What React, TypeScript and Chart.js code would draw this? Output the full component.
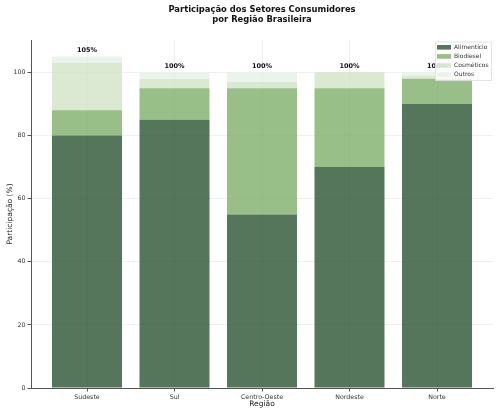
import React, { useEffect, useRef } from "react";
import { Chart, registerables } from "chart.js";

Chart.register(...registerables);

const regions = ["Sudeste", "Sul", "Centro-Oeste", "Nordeste", "Norte"];
const alimenticio = [80, 85, 55, 70, 90];
const biodiesel = [8, 10, 40, 25, 8];
const cosmeticos = [15, 3, 2, 5, 1];
const outros = [2, 2, 3, 0, 1];
const seriesNames = ["Alimentício", "Biodiesel", "Cosméticos", "Outros"];
const seriesColors = [
  "rgba(44,84,50,0.8)",
  "rgba(125,175,105,0.8)",
  "rgba(211,228,199,0.8)",
  "rgba(230,241,231,0.8)",
];
const yTicks = [0, 20, 40, 60, 80, 100];
const titleLines = ["Participação dos Setores Consumidores", "por Região Brasileira"];

const FONT = "'DejaVu Sans', sans-serif";

export default function App() {
  const ref = useRef<HTMLCanvasElement | null>(null);

  useEffect(() => {
    document.body.style.margin = "0";
    const canvas = ref.current;
    if (!canvas) return;
    const series = [alimenticio, biodiesel, cosmeticos, outros];
    const totals = regions.map((_, i) => series.reduce((s, arr) => s + arr[i], 0));

    const overlay = {
      id: "overlay",
      afterDatasetsDraw(chart: any) {
        const ctx = chart.ctx;
        const xs = chart.scales.x;
        const ys = chart.scales.y;
        const area = chart.chartArea;
        ctx.save();
        // totals
        ctx.fillStyle = "#111";
        ctx.font = `bold 6.5px ${FONT}`;
        ctx.textAlign = "center";
        ctx.textBaseline = "bottom";
        totals.forEach((t, i) => {
          ctx.fillText(`${t}%`, xs.getPixelForValue(i), ys.getPixelForValue(t) - 3);
        });
        // title
        ctx.font = `bold 8.4px ${FONT}`;
        ctx.textBaseline = "middle";
        const cx = (area.left + area.right) / 2;
        ctx.fillText(titleLines[0], cx, 10);
        ctx.fillText(titleLines[1], cx, 20);
        // legend
        const lx = 435, ly = 41.5, lw = 56, lh = 38.5;
        ctx.fillStyle = "rgba(255,255,255,0.85)";
        ctx.strokeStyle = "#dddddd";
        ctx.lineWidth = 0.8;
        ctx.beginPath();
        ctx.rect(lx + 0.5, ly + 0.5, lw, lh);
        ctx.fill();
        ctx.stroke();
        ctx.font = `6px ${FONT}`;
        ctx.textAlign = "left";
        seriesNames.forEach((n, k) => {
          const y = 47.3 + k * 9.1;
          ctx.fillStyle = seriesColors[k];
          ctx.fillRect(437, y - 2.3, 14, 4.6);
          ctx.fillStyle = "#333";
          ctx.fillText(n, 454, y);
        });
        ctx.restore();
      },
    };

    const chart = new Chart(canvas, {
      type: "bar",
      data: {
        datasets: series.map((arr, k) => ({
          label: seriesNames[k],
          data: arr.map((v, i) => ({ x: i, y: v })),
          backgroundColor: seriesColors[k],
          borderWidth: 0,
          categoryPercentage: 1,
          barPercentage: 0.8,
        })),
      },
      options: {
        animation: false,
        responsive: false,
        devicePixelRatio: 1,
        layout: { padding: { left: 0, right: 7, top: 40, bottom: 0 } },
        plugins: {
          legend: { display: false },
          title: { display: false },
          tooltip: { enabled: false },
        },
        scales: {
          x: {
            type: "linear",
            stacked: true,
            offset: false,
            min: -0.64,
            max: 4.64,
            afterBuildTicks: (axis: any) => {
              axis.ticks = regions.map((_, i) => ({ value: i }));
            },
            afterFit: (s: any) => {
              s.height = 26;
            },
            ticks: {
              callback: (v: any) => regions[Number(v)] ?? "",
              font: { family: FONT, size: 6.3 },
              color: "#333",
              padding: 2,
              maxRotation: 0,
              autoSkip: false,
            },
            grid: { offset: false, color: "rgba(0,0,0,0.06)", tickColor: "#555", tickLength: 3.5 },
            border: { display: true, color: "#555", width: 1 },
            title: {
              display: true,
              text: "Região",
              font: { family: FONT, size: 7.5 },
              color: "#222",
              padding: { top: 0, bottom: 5 },
            },
          },
          y: {
            stacked: true,
            min: 0,
            max: 110.25,
            afterBuildTicks: (axis: any) => {
              axis.ticks = yTicks.map((v) => ({ value: v }));
            },
            afterFit: (s: any) => {
              s.width = 31;
            },
            ticks: {
              font: { family: FONT, size: 6.3 },
              color: "#333",
              padding: 2,
            },
            grid: { color: "rgba(0,0,0,0.06)", tickColor: "#555", tickLength: 3.5 },
            border: { display: true, color: "#555", width: 1 },
            title: {
              display: true,
              text: "Participação (%)",
              font: { family: FONT, size: 7.5 },
              color: "#222",
              padding: { top: 6, bottom: 0 },
            },
          },
        },
      },
      plugins: [overlay],
    });
    return () => chart.destroy();
  }, []);

  return (
    <div style={{ position: "absolute", left: 0, top: 0, width: 500, height: 414 }}>
      <canvas ref={ref} width={500} height={414} style={{ width: 500, height: 414 }} />
    </div>
  );
}
